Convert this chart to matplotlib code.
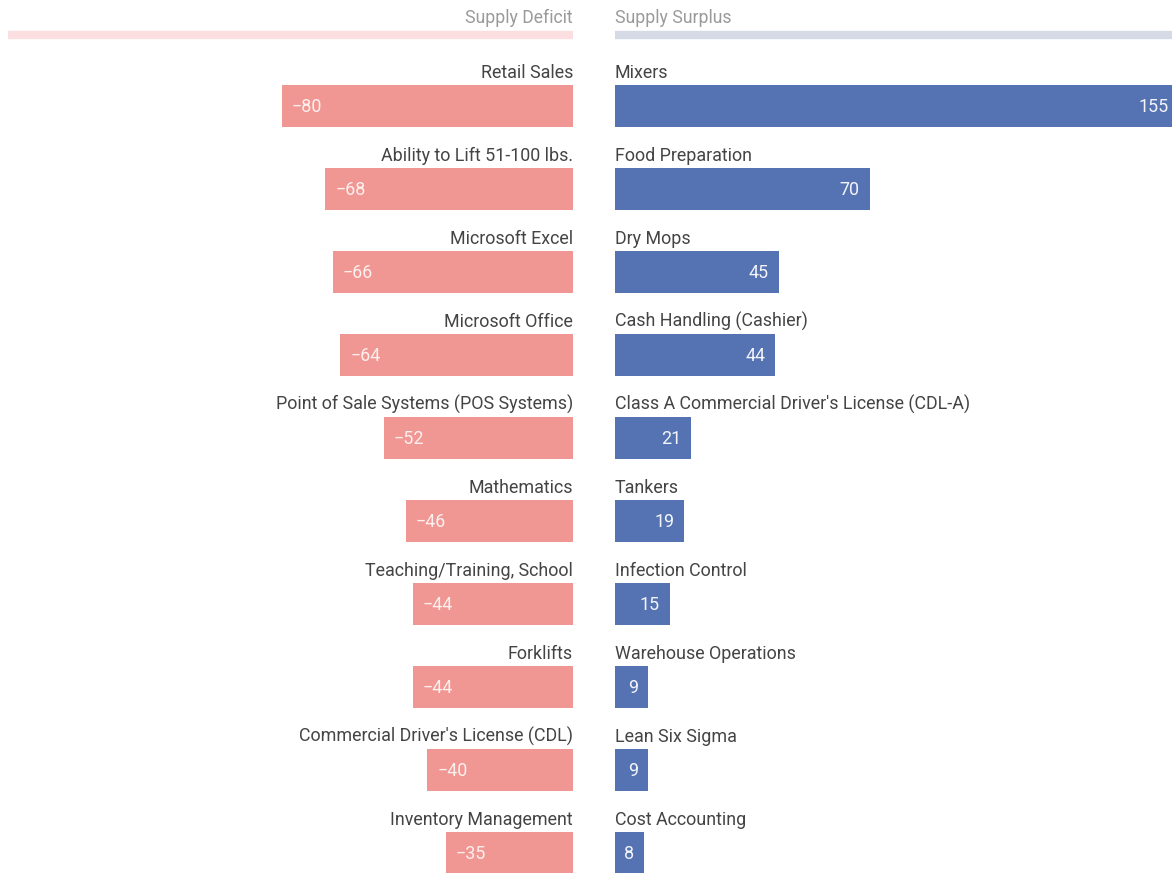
import matplotlib
matplotlib.use("Agg")
import matplotlib.pyplot as plt

plt.rcParams['font.family'] = ['Roboto', 'DejaVu Sans']

# data
deficit_skills = ["Retail Sales", "Ability to Lift 51-100 lbs.", "Microsoft Excel",
                  "Microsoft Office", "Point of Sale Systems (POS Systems)", "Mathematics",
                  "Teaching/Training, School", "Forklifts",
                  "Commercial Driver's License (CDL)", "Inventory Management"]
deficit_values = [-80, -68, -66, -64, -52, -46, -44, -44, -40, -35]

surplus_skills = ["Mixers", "Food Preparation", "Dry Mops", "Cash Handling (Cashier)",
                  "Class A Commercial Driver's License (CDL-A)", "Tankers",
                  "Infection Control", "Warehouse Operations", "Lean Six Sigma",
                  "Cost Accounting"]
surplus_values = [155, 70, 45, 44, 21, 19, 15, 9, 9, 8]

headers = ["Supply Deficit", "Supply Surplus"]

# look
W, H = 1172, 873
PX = 3.64          # pixels per unit
ROW = 83.0         # pixels per row
Y0 = 106.0         # pixel centre of first bar
RED = "#f09793"
BLUE = "#5573b3"
RED_LIGHT = "#fbdfe0"
BLUE_LIGHT = "#d5dae6"
TXT = "#444444"
GREY = "#9a9a9a"
FS = 12.9

fig = plt.figure(figsize=(W / 100, H / 100), dpi=100)
left_w = 573 / W
right_x = 615 / W
axl = fig.add_axes([0, 0, left_w, 1])
axr = fig.add_axes([right_x, 0, 1 - right_x, 1])

ylim = ((H - Y0) / ROW, -Y0 / ROW)
axl.set_xlim(-573 / PX, 0)
axr.set_xlim(0, (W - 615) / PX)

pad = 10 / PX
lab_off = (78 - Y0) / ROW
val_off = 6 / ROW
bar_h = 42 / ROW

for ax, vals, names, col, light, head, side in [
        (axl, deficit_values, deficit_skills, RED, RED_LIGHT, headers[0], 'right'),
        (axr, surplus_values, surplus_skills, BLUE, BLUE_LIGHT, headers[1], 'left')]:
    ax.set_ylim(*ylim)
    ax.axis('off')
    ys = list(range(len(vals)))
    ax.barh(ys, vals, height=bar_h, color=col, edgecolor='none')
    for y, v, n in zip(ys, vals, names):
        ax.text(0, y + lab_off, n, ha=side, va='baseline', fontsize=FS, color=TXT)
        if v < 0:
            ax.text(v + pad, y + val_off, "\u2212%d" % abs(v), ha='left', va='baseline',
                    fontsize=FS, color='#fdf0ef')
        else:
            ax.text(v - pad, y + val_off, "%d" % v, ha='right', va='baseline',
                    fontsize=FS, color='#f3f5fa')
    # header + underline
    ax.text(0, (23 - Y0) / ROW, head, ha=side, va='baseline', fontsize=12.7, color=GREY)
    x0, x1 = ax.get_xlim()
    if side == 'right':
        x0 = -565 / PX
    ax.hlines((35 - Y0) / ROW, x0, x1 if side == 'left' else 0, color=light,
              linewidth=6, capstyle='butt')

fig.savefig("out.png", dpi=100, facecolor='white')
